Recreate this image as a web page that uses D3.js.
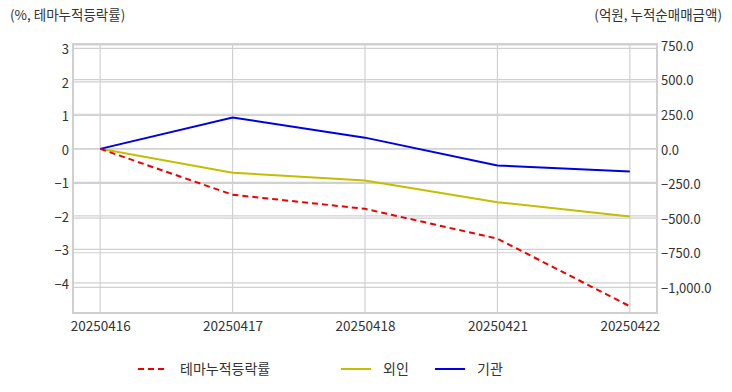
<!DOCTYPE html>
<html><head><meta charset="utf-8">
<script src="https://cdn.jsdelivr.net/npm/d3@7"></script>
<style>
body{margin:0;background:#fff;}
text{font-family:"Noto Sans CJK KR","Noto Sans",sans-serif;}
</style></head>
<body><svg id="c" width="732" height="392"></svg>
<script>
const dates = ["20250416","20250417","20250418","20250421","20250422"];
const themeRate = [0, -1.37, -1.79, -2.68, -4.7];
const foreign = [0, -172, -229, -385, -488];
const institution = [0, 226, 81, -120, -163];
const leftTicks = [3,2,1,0,-1,-2,-3,-4];
const rightTicks = [750,500,250,0,-250,-500,-750,-1000];
const seriesNames = ["테마누적등락률","외인","기관"];
const seriesColors = ["#ee0000","#c4be00","#0000e0"];

const svg = d3.select("#c");
const L = 73, R = 657, T = 44, B = 313;
const x = d3.scalePoint().domain(dates).range([L, R]).padding(0.205);
const yL = d3.scaleLinear().domain([-4.9, 3.13]).range([B, T]);
const yR = d3.scaleLinear().domain([-1185, 757]).range([B, T]);
const gridC = "#d0d0d0";

// grid
const g = svg.append("g");
g.selectAll(".gl").data(leftTicks).join("line")
  .attr("x1",L).attr("x2",R).attr("y1",d=>yL(d)).attr("y2",d=>yL(d))
  .attr("stroke",gridC).attr("stroke-width",1.2);
g.selectAll(".gr").data(rightTicks).join("line")
  .attr("x1",L).attr("x2",R).attr("y1",d=>yR(d)).attr("y2",d=>yR(d))
  .attr("stroke",gridC).attr("stroke-width",1.2);
g.selectAll(".gx").data(dates).join("line")
  .attr("x1",d=>x(d)).attr("x2",d=>x(d)).attr("y1",T).attr("y2",B)
  .attr("stroke",gridC).attr("stroke-width",1.2);
svg.append("rect").attr("x",L).attr("y",T).attr("width",R-L).attr("height",B-T)
  .attr("fill","none").attr("stroke",gridC).attr("stroke-width",2);

// axes
const axL = svg.append("g").attr("transform",`translate(${L-4},0)`)
  .call(d3.axisLeft(yL).tickValues(leftTicks).tickSize(0).tickPadding(0).tickFormat(d3.format("d")));
const axR = svg.append("g").attr("transform",`translate(${R+4},0)`)
  .call(d3.axisRight(yR).tickValues(rightTicks).tickSize(0).tickPadding(0).tickFormat(d3.format(",.1f")));
const axX = svg.append("g").attr("transform",`translate(0,${B+4})`)
  .call(d3.axisBottom(x).tickSize(0).tickPadding(0));
[axL,axR,axX].forEach(a=>{
  a.select(".domain").remove();
  a.selectAll("text").attr("fill","#333").style("font-size","13px");
});
axX.selectAll("text").style("font-size","13.5px").attr("dy","1.0em");
axR.selectAll("text").attr("dy","0.4em");
axL.selectAll("text").attr("dy","0.4em");

// lines
const lineL = d3.line().x((d,i)=>x(dates[i])).y(d=>yL(d));
const lineR = d3.line().x((d,i)=>x(dates[i])).y(d=>yR(d));
svg.append("path").datum(foreign).attr("d",lineR).attr("fill","none")
  .attr("stroke",seriesColors[1]).attr("stroke-width",2);
svg.append("path").datum(institution).attr("d",lineR).attr("fill","none")
  .attr("stroke",seriesColors[2]).attr("stroke-width",2);
svg.append("path").datum(themeRate).attr("d",lineL).attr("fill","none")
  .attr("stroke",seriesColors[0]).attr("stroke-width",2).attr("stroke-dasharray","6,4");

// axis titles
svg.append("text").attr("x",10).attr("y",20).text("(%, 테마누적등락률)")
  .attr("fill","#333").style("font-size","13.5px");
svg.append("text").attr("x",722).attr("y",20).attr("text-anchor","end").text("(억원, 누적순매매금액)")
  .attr("fill","#333").style("font-size","13.5px");

// legend
const legX = [138, 341, 435];
const lg = svg.append("g");
seriesNames.forEach((n,i)=>{
  lg.append("line").attr("x1",legX[i]).attr("x2",legX[i]+30).attr("y1",369).attr("y2",369)
    .attr("stroke",seriesColors[i]).attr("stroke-width",2)
    .attr("stroke-dasharray", i===0 ? "6,4" : null);
  lg.append("text").attr("x",legX[i]+42).attr("y",374).text(n)
    .attr("fill","#333").style("font-size","14px");
});
</script></body></html>
